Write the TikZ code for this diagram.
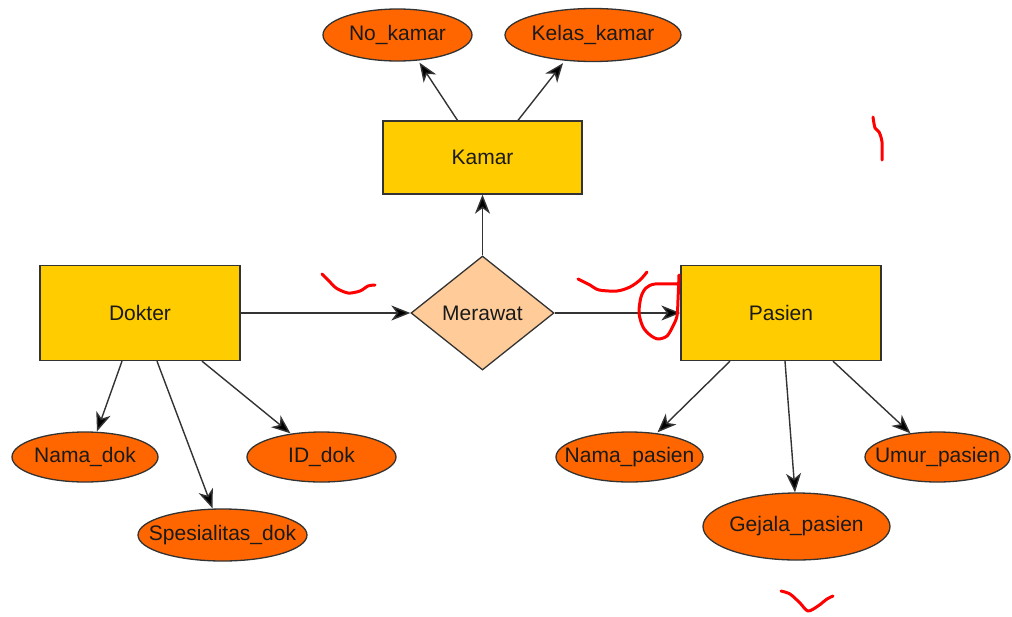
\documentclass[tikz,border=0pt]{standalone}
\usepackage{fontspec}
\setmainfont{Liberation Sans}
\usetikzlibrary{shapes.geometric,arrows.meta}
\definecolor{entfill}{HTML}{FFCC00}
\definecolor{attfill}{HTML}{FF6600}
\definecolor{relfill}{HTML}{FFCC99}
\definecolor{edge}{HTML}{333333}
\definecolor{txt}{HTML}{1A1A1A}
\definecolor{scrib}{HTML}{FF0000}
\newcommand{\lbl}[1]{\makebox[0pt]{#1}}
\tikzset{
  entity/.style={draw=edge, line width=1.3pt, fill=entfill, rectangle, inner sep=0pt, text=txt,
    font=\fontsize{21}{25}\selectfont},
  attrib/.style={draw=edge, line width=1.3pt, fill=attfill, ellipse, inner sep=0pt, text=txt,
    font=\fontsize{21}{25}\selectfont},
  relation/.style={draw=edge, line width=1.3pt, fill=relfill, diamond, inner sep=0pt, text=txt,
    font=\fontsize{21}{25}\selectfont},
  arr/.style={draw=edge, line width=1.4pt, -{Stealth[length=19pt,width=15pt,inset=5.5pt,fill=black]}},
  scribble/.style={draw=scrib, line width=3pt, line cap=round, line join=round}
}
\begin{document}
\begin{tikzpicture}[x=1pt,y=-1pt]
\useasboundingbox (0,0) rectangle (1012,616);
% entities
\node[entity, minimum width=199pt, minimum height=73pt] (kamar) at (482.5,157.5) {\lbl{Kamar}};
\node[entity, minimum width=200pt, minimum height=95pt] (dokter) at (140,313) {\lbl{Dokter}};
\node[entity, minimum width=200pt, minimum height=95pt] (pasien) at (781,313) {\lbl{Pasien}};
% relation
\node[relation, minimum width=143pt, minimum height=114pt] (merawat) at (482.5,313) {\lbl{Merawat}};
% attributes
\node[attrib, minimum width=149pt, minimum height=52pt] (nokamar) at (397.5,35) {\lbl{No\_kamar}};
\node[attrib, minimum width=176pt, minimum height=53pt] (kelaskamar) at (593,35) {\lbl{Kelas\_kamar}};
\node[attrib, minimum width=146pt, minimum height=50pt] (namadok) at (85,457) {\lbl{Nama\_dok}};
\node[attrib, minimum width=149pt, minimum height=50pt] (iddok) at (321.5,457) {\lbl{ID\_dok}};
\node[attrib, minimum width=169pt, minimum height=52pt] (spesdok) at (222.5,535) {\lbl{Spesialitas\_dok}};
\node[attrib, minimum width=147pt, minimum height=50pt] (namapasien) at (629.5,457) {\lbl{Nama\_pasien}};
\node[attrib, minimum width=145pt, minimum height=50pt] (umurpasien) at (937.5,457) {\lbl{Umur\_pasien}};
\node[attrib, minimum width=187pt, minimum height=67pt] (gejalapasien) at (796.5,526.5) {\lbl{Gejala\_pasien}};
% connectors
\draw[arr] ([xshift=-25pt]kamar.north) -- ([xshift=22pt,yshift=-1pt]nokamar.south);
\draw[arr] ([xshift=35.5pt]kamar.north) -- ([xshift=-30pt,yshift=-1pt]kelaskamar.south);
\draw[arr] (merawat.north) -- (kamar.south);
\draw[arr] (dokter.east) -- (merawat.west);
\draw[arr] (merawat.east) -- (pasien.west);
\draw[arr] ([xshift=-18pt]dokter.south) -- ([xshift=12pt]namadok.north);
\draw[arr] ([xshift=17pt]dokter.south) -- ([xshift=-10pt]spesdok.north);
\draw[arr] ([xshift=62pt]dokter.south) -- ([xshift=-31pt,yshift=-2pt]iddok.north);
\draw[arr] ([xshift=-51pt]pasien.south) -- ([xshift=28pt,yshift=-1pt]namapasien.north);
\draw[arr] ([xshift=4pt]pasien.south) -- ([xshift=-1.5pt]gejalapasien.north);
\draw[arr] ([xshift=52pt]pasien.south) -- ([xshift=-27pt,yshift=-2pt]umurpasien.north);
% red scribbles
\draw[scribble] plot[smooth] coordinates {(322,274) (330,282) (336,288) (348,293) (360,291) (368,286) (375,285)};
\draw[scribble] plot[smooth] coordinates {(578,279) (590,285) (599,290) (617,291) (630,287) (640,280) (647,272)};
\draw[scribble] plot[smooth] coordinates {(677,284) (655,284) (646,288) (641,297) (639,313) (643,327) (650,335) (658,339) (667,336) (673,326) (677,316) (678,300) (679,275)};
\draw[scribble] plot[smooth] coordinates {(873,117) (875,128) (879,132) (882,142) (882,160)};
\draw[scribble] plot[smooth] coordinates {(781,591) (790,594) (800,603) (808,611) (818,606) (827,599) (833,596)};
\end{tikzpicture}
\end{document}
